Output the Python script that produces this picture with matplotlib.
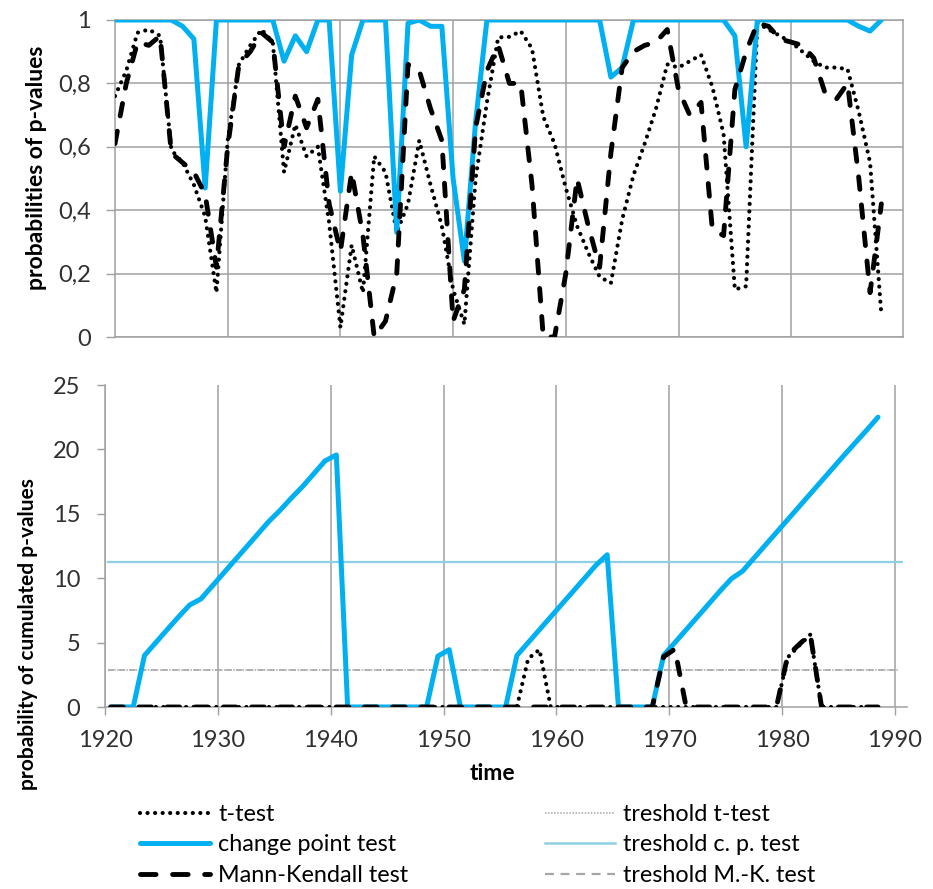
import matplotlib
matplotlib.use("Agg")
import matplotlib.pyplot as plt
from matplotlib.lines import Line2D
from matplotlib.ticker import FuncFormatter

plt.rcParams['font.family'] = ['Lato', 'DejaVu Sans']

# ---------------- data ----------------
years = [y + 0.5 for y in range(1920, 1989)]          # 1920.5 ... 1988.5

# top panel: p-value probabilities
t_p = [0.76, 0.84, 0.96, 0.97, 0.95, 0.59, 0.55, 0.48, 0.38, 0.14,
       0.62, 0.86, 0.92, 0.97, 0.93, 0.52, 0.67, 0.57, 0.60, 0.36,
       0.03, 0.29, 0.14, 0.57, 0.52, 0.33, 0.42, 0.62, 0.48, 0.35,
       0.15, 0.04, 0.50, 0.74, 0.945, 0.947, 0.965, 0.91, 0.695, 0.61,
       0.47, 0.35, 0.265, 0.19, 0.17, 0.37, 0.51, 0.61, 0.72, 0.86,
       0.85, 0.87, 0.89, 0.79, 0.64, 0.15, 0.16, 0.99, 0.97, 0.95,
       0.93, 0.90, 0.87, 0.85, 0.85, 0.845, 0.71, 0.55, 0.07]
cp_p = [1.0, 1.0, 1.0, 1.0, 1.0, 1.0, 0.98, 0.94, 0.47, 1.0,
        1.0, 1.0, 1.0, 1.0, 1.0, 0.87, 0.95, 0.90, 1.0, 1.0,
        0.46, 0.89, 1.0, 1.0, 1.0, 0.33, 0.99, 1.0, 0.98, 0.98,
        0.50, 0.24, 0.68, 1.0, 1.0, 1.0, 1.0, 1.0, 1.0, 1.0,
        1.0, 1.0, 1.0, 1.0, 0.82, 0.85, 1.0, 1.0, 1.0, 1.0,
        1.0, 1.0, 1.0, 1.0, 1.0, 0.95, 0.60, 1.0, 1.0, 1.0,
        1.0, 1.0, 1.0, 1.0, 1.0, 1.0, 0.98, 0.965, 1.0]
mk_p = [0.61, 0.80, 0.93, 0.92, 0.95, 0.58, 0.55, 0.52, 0.45, 0.22,
        0.60, 0.86, 0.90, 0.96, 0.93, 0.60, 0.76, 0.66, 0.75, 0.42,
        0.27, 0.52, 0.32, 0.00, 0.05, 0.20, 0.86, 0.84, 0.72, 0.62,
        0.05, 0.15, 0.66, 0.84, 0.92, 0.80, 0.80, 0.48, 0.00, 0.00,
        0.20, 0.50, 0.35, 0.22, 0.58, 0.85, 0.90, 0.92, 0.93, 0.97,
        0.78, 0.70, 0.74, 0.34, 0.32, 0.78, 0.90, 0.99, 0.98, 0.94,
        0.93, 0.92, 0.88, 0.77, 0.75, 0.80, 0.50, 0.14, 0.42]

# bottom panel: cumulated p-values
t_cum = [0, 0, 0, 0, 0, 0, 0, 0, 0, 0,
         0, 0, 0, 0, 0, 0, 0, 0, 0, 0,
         0, 0, 0, 0, 0, 0, 0, 0, 0, 0,
         0, 0, 0, 0, 0, 0, 0, 3.75, 4.45, 0,
         0, 0, 0, 0, 0, 0, 0, 0, 0, 0,
         0, 0, 0, 0, 0, 0, 0, 0, 0, 0,
         3.85, 4.75, 5.62, 0, 0, 0, 0, 0, 0]
cp_cum = [0, 0, 0, 4.0, 5.0, 6.0, 6.98, 7.92, 8.39, 9.39,
          10.39, 11.39, 12.39, 13.39, 14.39, 15.26, 16.21, 17.11, 18.11, 19.11,
          19.57, 0, 0, 0, 0, 0, 0, 0, 0, 3.95,
          4.45, 0, 0, 0, 0, 0, 4.0, 5.0, 6.0, 7.0,
          8.0, 9.0, 10.0, 11.0, 11.82, 0, 0, 0, 0, 4.0,
          5.0, 6.0, 7.0, 8.0, 9.0, 9.95, 10.55, 11.55, 12.55, 13.55,
          14.55, 15.55, 16.55, 17.55, 18.55, 19.55, 20.53, 21.5, 22.5]
mk_cum = [0, 0, 0, 0, 0, 0, 0, 0, 0, 0,
          0, 0, 0, 0, 0, 0, 0, 0, 0, 0,
          0, 0, 0, 0, 0, 0, 0, 0, 0, 0,
          0, 0, 0, 0, 0, 0, 0, 0, 0, 0,
          0, 0, 0, 0, 0, 0, 0, 0, 0, 3.9,
          4.5, 0, 0, 0, 0, 0, 0, 0, 0, 0,
          4.0, 4.85, 5.65, 0, 0, 0, 0, 0, 0]

thr_t = 2.85
thr_cp = 11.25
thr_mk = 2.85

top_yticks = [0, 0.2, 0.4, 0.6, 0.8, 1.0]
bottom_xticks = [1920, 1930, 1940, 1950, 1960, 1970, 1980, 1990]
bottom_yticks = [0, 5, 10, 15, 20, 25]

labels = ['t-test', 'change point test', 'Mann-Kendall test',
          'treshold t-test', 'treshold c. p. test', 'treshold M.-K. test']

# ---------------- styles ----------------
BLUE = '#00B0F0'
LBLUE = '#8ECFE6'
GRID = '#A0A0A0'
THR_GRAY = '#A6A6A6'
TXT = '#303030'
FS_TICK = 17
FS_LEG = 16.8

dot_kw = dict(color='black', lw=3.0, linestyle=(0, (0.01, 1.8)),
              dash_capstyle='round', solid_capstyle='round')
dash_kw = dict(color='black', lw=3.5, linestyle=(0, (2.6, 3.2)),
               dash_capstyle='round')
blue_kw = dict(color=BLUE, lw=3.6, solid_joinstyle='round', solid_capstyle='round')

W, H = 933, 889
fig = plt.figure(figsize=(W / 100, H / 100), dpi=100)

# ---------------- top panel ----------------
axt = fig.add_axes([115 / W, 1 - 337 / H, 788 / W, 317 / H])
axt.plot(years, t_p, **dot_kw, zorder=3)
axt.plot(years, cp_p, **blue_kw, zorder=4)
axt.plot(years, mk_p, **dash_kw, zorder=5)
axt.set_xlim(years[0], years[0] + 69.92)
axt.set_ylim(0, 1)
axt.set_xticks([years[0] + k for k in range(10, 70, 10)])
axt.set_yticks(top_yticks)
axt.yaxis.set_major_formatter(FuncFormatter(
    lambda v, p: ('%g' % round(v, 1)).replace('.', ',')))
axt.tick_params(axis='x', length=0, labelbottom=False)
axt.tick_params(axis='y', length=6.5, width=1, color=GRID, pad=11,
                labelsize=FS_TICK, labelcolor=TXT)
axt.grid(True, color=GRID, lw=1.1, zorder=0)
axt.set_axisbelow(True)
for s in axt.spines.values():
    s.set_color(GRID)
    s.set_linewidth(1.1)

# ---------------- bottom panel ----------------
axb = fig.add_axes([105 / W, 1 - 707 / H, 802 / W, 322 / H])
axb.axhline(thr_t, xmin=0.004, xmax=0.99, color=THR_GRAY, lw=1.1,
            linestyle=(0, (1, 1)), zorder=2)
axb.axhline(thr_cp, xmin=0.004, xmax=0.994, color=LBLUE, lw=1.6, zorder=2)
axb.axhline(thr_mk, xmin=0.004, xmax=0.99, color=THR_GRAY, lw=1.1,
            linestyle=(0, (4, 3)), zorder=2)
axb.plot(years, t_cum, **dot_kw, zorder=3)
axb.plot(years, cp_cum, **blue_kw, zorder=4)
axb.plot(years, mk_cum, **dash_kw, zorder=5)
axb.set_xlim(1920, 1991.07)
axb.set_ylim(0, 25)
axb.set_xticks(bottom_xticks)
axb.set_yticks(bottom_yticks)
axb.tick_params(axis='both', length=5.8, width=1, color=GRID, pad=11,
                labelsize=FS_TICK, labelcolor=TXT)
axb.tick_params(axis='y', pad=12)
axb.grid(True, axis='x', color=GRID, lw=1.1, zorder=0)
axb.set_axisbelow(True)
axb.spines['top'].set_visible(False)
axb.spines['right'].set_visible(False)
for s in ('left', 'bottom'):
    axb.spines[s].set_color(GRID)
    axb.spines[s].set_linewidth(1.1)
axb.patch.set_alpha(0)

# ---------------- labels ----------------
fig.text(37 / W, 1 - 168 / H, 'probabilities of p-values', rotation=90,
         ha='center', va='center', fontsize=16.5, fontweight='bold', color='black')
fig.text(28 / W, 1 - 634 / H, 'probability of cumulated p-values', rotation=90,
         ha='center', va='center', fontsize=15, fontweight='bold', color='black')
fig.text(492 / W, 1 - 773 / H, 'time', ha='center', va='center',
         fontsize=16.5, fontweight='bold', color='black')

# ---------------- legend ----------------
h_t = Line2D([], [], **dot_kw)
h_cp = Line2D([], [], **blue_kw)
h_mk = Line2D([], [], color='black', lw=3.5, linestyle=(0, (3.2, 3.4)),
              dash_capstyle='round')
h_tt = Line2D([], [], color=THR_GRAY, lw=1.1, linestyle=(0, (1, 1)))
h_tcp = Line2D([], [], color=LBLUE, lw=1.8)
h_tmk = Line2D([], [], color=THR_GRAY, lw=1.6, linestyle=(0, (4, 3)))

leg_kw = dict(frameon=False, loc='upper left', borderpad=0, borderaxespad=0,
              handlelength=3.0, handletextpad=0.35, labelspacing=0.4,
              fontsize=FS_LEG, labelcolor='black')
fig.legend([h_t, h_cp, h_mk], labels[:3],
           bbox_to_anchor=(140 / W, 1 - 804 / H), **leg_kw)
fig.legend([h_tt, h_tcp, h_tmk], labels[3:],
           bbox_to_anchor=(545 / W, 1 - 804 / H), **leg_kw)

fig.savefig('out.png', dpi=100)
